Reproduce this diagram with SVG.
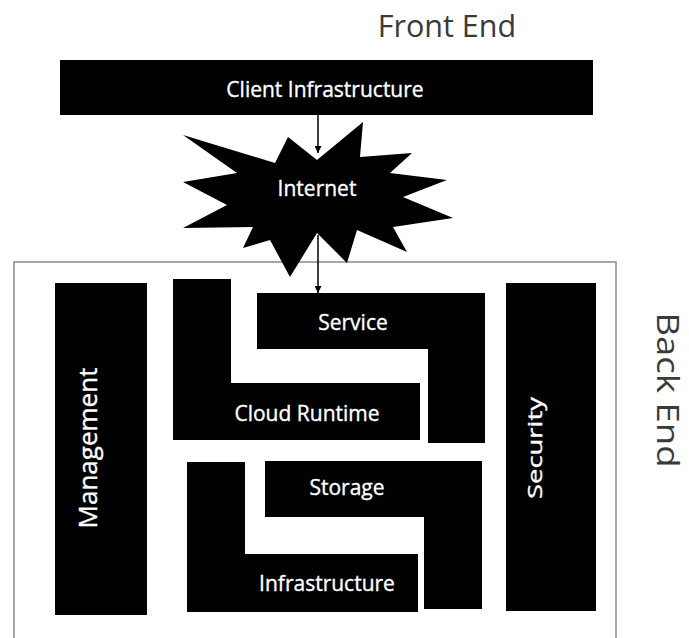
<svg xmlns="http://www.w3.org/2000/svg" width="689" height="638" viewBox="0 0 689 638">
<style>
  .blk { fill: #000; }
  .lbl { fill: #fff; stroke: #fff; stroke-width: 0.35; font-family: "Open Sans", "Liberation Sans", sans-serif; font-size: 21px; text-anchor: middle; }
  .side { fill: #3a3a3a; font-family: "Open Sans", "Liberation Sans", sans-serif; text-anchor: middle; }
  .conn { stroke: #000; stroke-width: 1.5; fill: none; }
</style>
<defs>
  <marker id="arr" viewBox="0 0 10 10" refX="10" refY="5" markerWidth="7" markerHeight="7" markerUnits="userSpaceOnUse" orient="auto">
    <path d="M0,0 L10,5 L0,10 z" fill="#000"/>
  </marker>
</defs>
<rect width="689" height="638" fill="#fff"/>

<g id="front-end-label">
  <text class="side" x="447" y="37" style="font-size:30.5px">Front End</text>
</g>
<g id="back-end-container">
  <rect x="14" y="262" width="602" height="390" fill="none" stroke="#8a8a8a" stroke-width="1.5"/>
</g>
<g id="back-end-label">
  <text class="side" transform="translate(668,390) rotate(90)" x="0" y="11" style="font-size:31px" textLength="155" lengthAdjust="spacingAndGlyphs">Back End</text>
</g>

<g id="client-infrastructure">
  <rect class="blk" x="60" y="60" width="533" height="55"/>
  <text class="lbl" x="325" y="96.5">Client Infrastructure</text>
</g>

<g id="internet">
  <polygon class="blk" points="183,135 275,163 288,137 317,160 363,122 360,157 412,153 390,173 447,180 403,197 453,218 393,227 407,252 357,230 347,263 317,233 290,277 270,240 243,248 253,227 183,228 227,205 183,182 237,173"/>
  <text class="lbl" x="317" y="195.5">Internet</text>
</g>

<g id="management">
  <rect class="blk" x="55" y="283" width="92" height="332"/>
  <text class="lbl" transform="translate(88,448) rotate(-90)" x="0" y="9.4" style="font-size:26px">Management</text>
</g>

<g id="cloud-runtime">
  <path class="blk" d="M173,279 H231 V383 H420 V440 H173 Z"/>
  <text class="lbl" x="307" y="420.5">Cloud Runtime</text>
</g>

<g id="service">
  <path class="blk" d="M257,293 H485 V443 H428 V349 H257 Z"/>
  <text class="lbl" x="353" y="329.5">Service</text>
</g>

<g id="infrastructure">
  <path class="blk" d="M187,462 H245 V554 H418 V612 H187 Z"/>
  <text class="lbl" x="327" y="591">Infrastructure</text>
</g>

<g id="storage">
  <path class="blk" d="M265,461 H482 V609 H424 V517 H265 Z"/>
  <text class="lbl" x="347" y="495">Storage</text>
</g>

<g id="security">
  <rect class="blk" x="506" y="283" width="90" height="328"/>
  <text class="lbl" transform="translate(535,448) rotate(-90)" x="0" y="7" style="font-size:20px" textLength="102" lengthAdjust="spacingAndGlyphs">Security</text>
</g>

<g id="connectors">
  <line class="conn" x1="318" y1="115" x2="318" y2="153" marker-end="url(#arr)"/>
  <line class="conn" x1="318" y1="235" x2="318" y2="293" marker-end="url(#arr)"/>
</g>
</svg>
